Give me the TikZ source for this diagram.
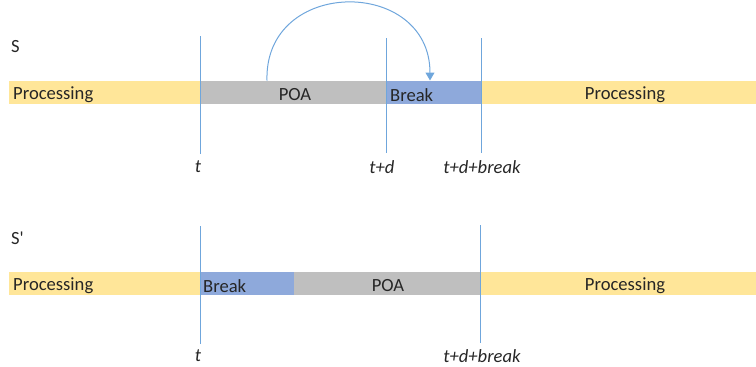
\documentclass[tikz,border=0pt]{standalone}
\usepackage{fontspec}
\setmainfont{Carlito}
\newfontfamily\plainfont{Carlito}[Ligatures=TeXOff]
\usetikzlibrary{arrows.meta}
\definecolor{procY}{HTML}{FFE699}
\definecolor{poaG}{HTML}{BFBFBF}
\definecolor{brkB}{HTML}{8EA9DB}
\definecolor{lineB}{HTML}{6FA6DC}
\definecolor{txt}{HTML}{262626}
\tikzset{
  seg/.style={draw=none, minimum height=23pt, inner sep=0pt, outer sep=0pt, anchor=west},
  lbl/.style={font=\fontsize{18.6}{22}\selectfont, text=txt, inner sep=0pt},
  tlbl/.style={font=\fontsize{18.6}{22}\selectfont\itshape, text=txt, inner sep=0pt},
  vline/.style={draw=lineB, line width=1pt},
}
\begin{document}
\begin{tikzpicture}[x=1pt,y=-1pt]
\useasboundingbox (0,0) rectangle (756,367);
% ---- S ----
\node[lbl, anchor=west] (S) at (11,47) {S};
\node[seg, fill=procY, minimum width=191pt] (p1) at (9,92.5) {};
\node[seg, fill=poaG, minimum width=186pt] (g1) at (200,92.5) {};
\node[seg, fill=brkB, minimum width=95pt] (b1) at (386,92.5) {};
\node[seg, fill=procY, minimum width=275pt] (p2) at (481,92.5) {};
\node[lbl, anchor=west] (tp1) at (13,95) {Processing};
\node[lbl] (tg1) at (295,95) {POA};
\node[lbl, anchor=west] (tb1) at (390,95) {Break};
\node[lbl] (tp2) at (625,95) {Processing};
\coordinate (v1t) at (200,36); \coordinate (v1b) at (200,154);
\coordinate (v2t) at (386,38); \coordinate (v2b) at (386,153);
\coordinate (v3t) at (481,38); \coordinate (v3b) at (481,153);
\draw[vline] (v1t) -- (v1b);
\draw[vline] (v2t) -- (v2b);
\draw[vline] (v3t) -- (v3b);
\node[tlbl] (l1) at (198,167) {t};
\node[tlbl] (l2) at (382,167) {t+d};
\node[tlbl] (l3) at (482,167) {t+d+break};
\coordinate (as) at (267,80.5);
\coordinate (ae) at (430,80.5);
\draw[draw=lineB, line width=1pt, -{Triangle[length=8pt,width=9pt]}]
  (as) .. controls (264,-23) and (430,-23) .. (ae);
% ---- S' ----
\node[lbl, anchor=west] (S2) at (11,238) {\plainfont S'};
\node[seg, fill=procY, minimum width=191pt] (p3) at (9,283) {};
\node[seg, fill=brkB, minimum width=94pt] (b2) at (200,283) {};
\node[seg, fill=poaG, minimum width=186pt] (g2) at (294,283) {};
\node[seg, fill=procY, minimum width=276pt] (p4) at (480,283) {};
\node[lbl, anchor=west] (tp3) at (13,286) {Processing};
\node[lbl, anchor=west] (tb2) at (203,286) {Break};
\node[lbl] (tg2) at (388,286) {POA};
\node[lbl] (tp4) at (625,286) {Processing};
\coordinate (w1t) at (200,226); \coordinate (w1b) at (200,344);
\coordinate (w2t) at (480,225); \coordinate (w2b) at (480,343);
\draw[vline] (w1t) -- (w1b);
\draw[vline] (w2t) -- (w2b);
\node[tlbl] (m1) at (198,356) {t};
\node[tlbl] (m2) at (482,356) {t+d+break};
\end{tikzpicture}
\end{document}
